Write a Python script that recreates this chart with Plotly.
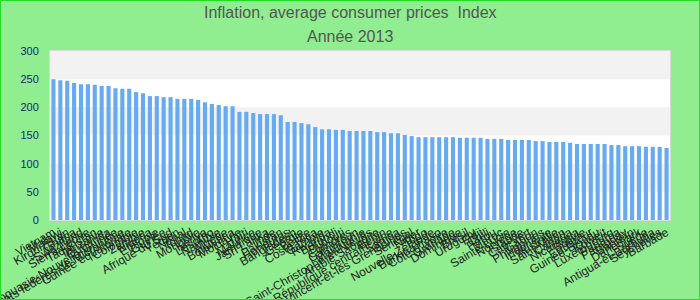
import plotly.graph_objects as go

countries = [
    "Vietnam", "Malawi", "Kirghizistan", "Ghana", "Swaziland", "Sierra Leone",
    "Tadjikistan", "Tanzanie", "Ouganda", "Papouasie-Nouvelle-Guinée",
    "Etats fédérés de Micronésie", "Guinée équatoriale", "Colombie", "Zambie",
    "Nigeria", "Ethiopie", "Guinée", "Afrique du Sud", "Yémen", "Népal", "Tchad",
    "Mongolie", "Kenya", "Lesotho", "Namibie", "Algérie", "Botswana", "Moldavie",
    "Haïti", "Maurice", "Jamaïque", "Sri Lanka", "Inde", "Pakistan", "Honduras",
    "Bangladesh", "Géorgie", "Belize", "Costa Rica", "Gambie", "Rwanda", "Burundi",
    "Djibouti", "Comores", "Cameroun", "Mauritanie", "Saint-Christophe-et-Niévès",
    "Arabie Saoudite", "Bénin", "République centrafricaine", "Samoa",
    "Saint-Vincent-et-les Grenadines", "Sénégal", "Niger", "Togo",
    "Nouvelle-Zélande", "Burkina Faso", "Côte d'Ivoire", "Grenade", "Dominique",
    "Brésil", "Uruguay", "Fidji", "Chili", "Pérou", "Maroc", "Sainte-Lucie",
    "Norvège", "Islande", "Cap-Vert", "Gabon", "Philippines", "Indonésie",
    "Australie", "Saint-Marin", "Canada", "Nicaragua", "Bolivie", "Equateur",
    "Guinée-Bissau", "Koweït", "Luxembourg", "Panama", "Paraguay", "Bahreïn",
    "Danemark", "Suède", "Antigua-et-Barbuda", "Seychelles", "Barbade",
]

index_2013 = [
    250, 248, 247, 243, 241, 241, 240, 238, 238, 234,
    233, 233, 227, 225, 220, 220, 218, 218, 215, 215,
    215, 213, 209, 206, 204, 202, 202, 192, 192, 190,
    188, 188, 188, 186, 174, 174, 172, 170, 165, 161,
    161, 160, 160, 158, 158, 158, 158, 156, 156, 154,
    154, 151, 149, 147, 147, 147, 147, 147, 147, 146,
    146, 146, 146, 144, 144, 144, 142, 142, 142, 142,
    140, 140, 138.5, 138.5, 138.5, 137, 135, 135, 135, 135,
    135, 133, 133, 131, 131, 131, 130, 130, 130, 128,
]

y_ticks = [0, 50, 100, 150, 200, 250, 300]
band_ranges = [(50, 100), (150, 200), (250, 300)]

W, H = 700, 300
ML, MR, MT, MB = 50, 30, 51, 80
PW, PH = W - ML - MR, H - MT - MB

def px_x(p):
    return (p - ML) / PW

def px_y(p):
    return (H - MB - p) / PH

fig = go.Figure()
fig.add_trace(go.Bar(
    x=countries, y=index_2013,
    marker=dict(color="#66abf2", line=dict(width=0)),
    hovertemplate="%{x}: %{y}<extra></extra>",
))

shapes = []
for lo, hi in band_ranges:
    shapes.append(dict(type="rect", xref="paper", yref="y", x0=0, x1=1,
                       y0=lo, y1=hi, fillcolor="#f2f2f2",
                       line=dict(width=0), layer="below"))
shapes.append(dict(type="rect", xref="paper", yref="paper",
                   x0=px_x(0.5), x1=px_x(W - 0.5), y0=px_y(H - 0.5), y1=px_y(0.5),
                   line=dict(color="#22dd22", width=1), fillcolor="rgba(0,0,0,0)",
                   layer="above"))

fig.update_layout(
    width=W, height=H, autosize=False,
    margin=dict(l=ML, r=MR, t=MT, b=MB, pad=0),
    paper_bgcolor="#90ee90", plot_bgcolor="#ffffff",
    bargap=0.4, showlegend=False,
    font=dict(family="Liberation Sans, Arial, sans-serif"),
    shapes=shapes,
    annotations=[
        dict(text="Inflation, average consumer prices  Index", xref="paper",
             yref="paper", x=(W / 2 - ML) / PW,
             y=px_y(13), xanchor="center", yanchor="middle", showarrow=False,
             font=dict(size=16, color="#555555")),
        dict(text="Année 2013", xref="paper", yref="paper",
             x=(W / 2 - ML) / PW, y=px_y(36), xanchor="center", yanchor="middle",
             showarrow=False, font=dict(size=16, color="#555555")),
    ],
    xaxis=dict(
        tickmode="array", tickvals=countries, ticktext=countries,
        tickangle=-30, automargin=False, showgrid=False, ticks="",
        tickfont=dict(size=12, color="#222222"),
        showline=True, linecolor="#d9d9d9", linewidth=1, mirror=True,
        fixedrange=True,
    ),
    yaxis=dict(
        range=[0, 300], tickvals=y_ticks, showgrid=False, zeroline=False,
        automargin=False, ticks="", ticklabelstandoff=8,
        tickfont=dict(size=11, color="#1a1a80"),
        showline=True, linecolor="#d9d9d9", linewidth=1, mirror=True,
        fixedrange=True,
    ),
)

fig.write_html("out.html")
